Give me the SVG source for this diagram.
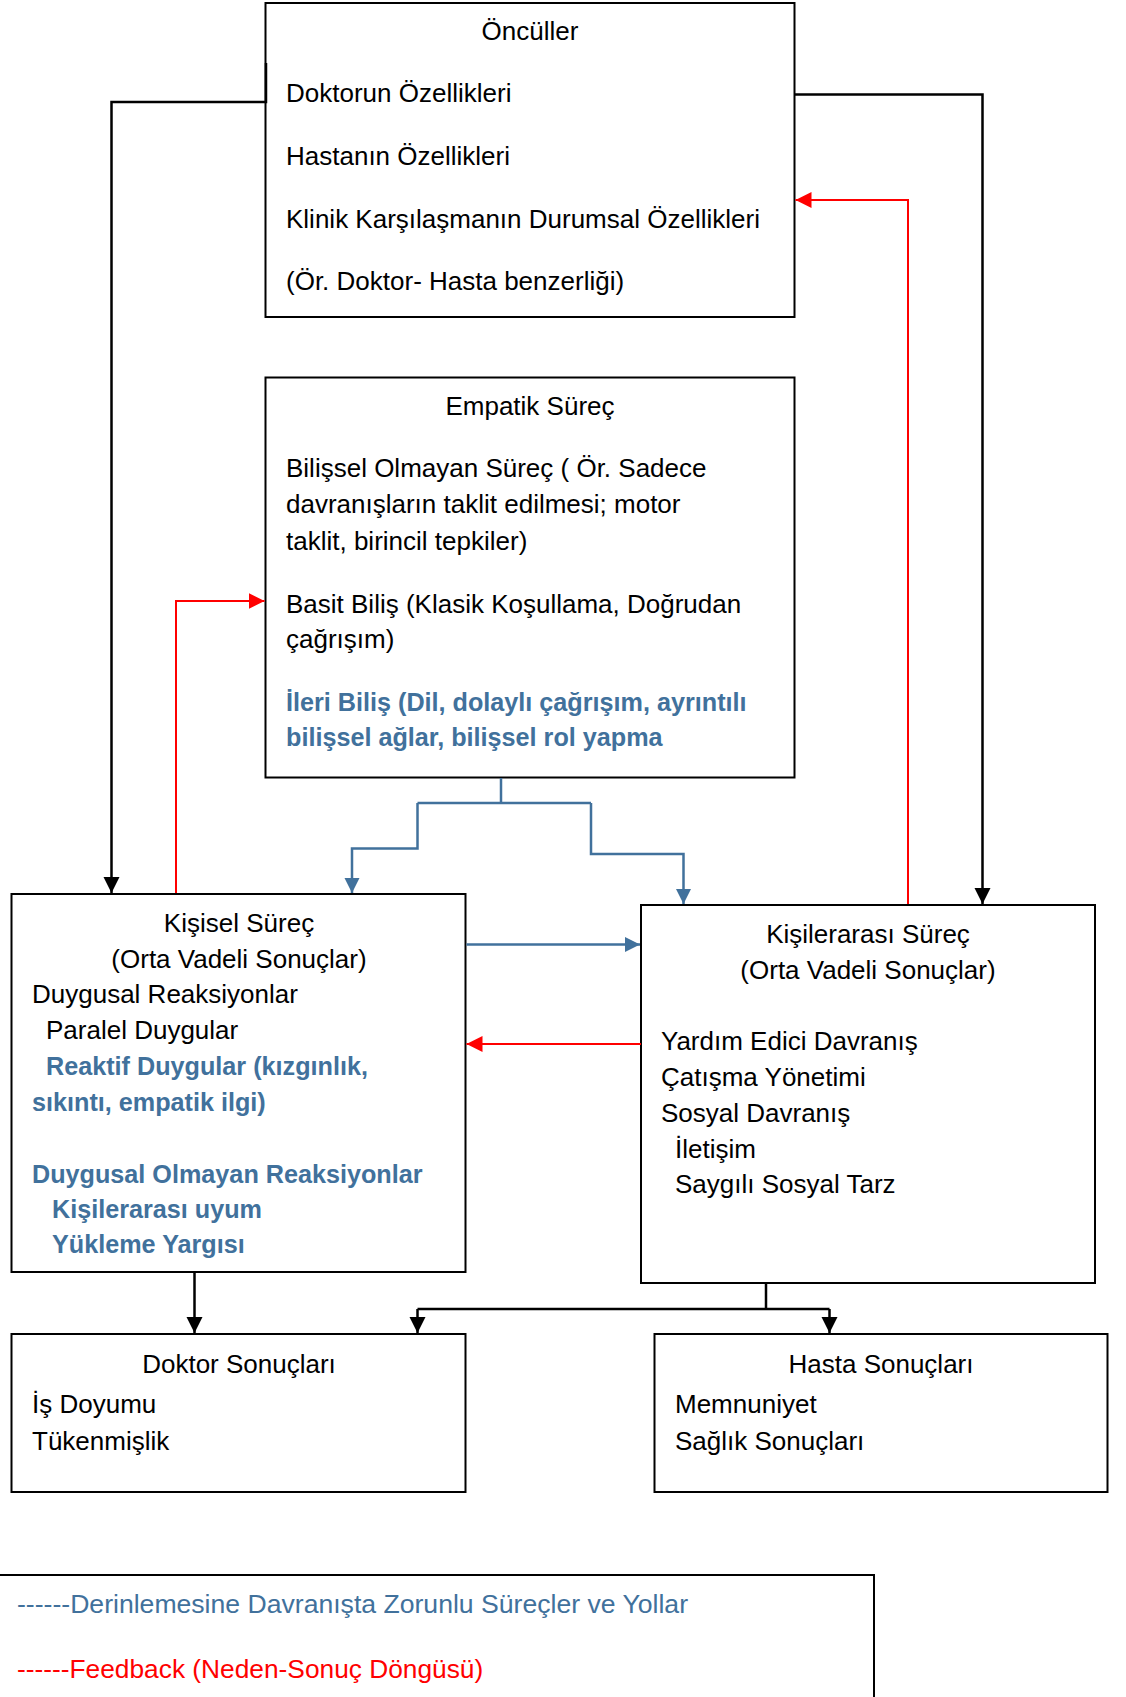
<svg xmlns="http://www.w3.org/2000/svg" width="1126" height="1697" viewBox="0 0 1126 1697">
<style>
  .box{fill:#ffffff;stroke:#000000;stroke-width:2}
  text{font-family:"Liberation Sans",Arial,sans-serif;font-size:26px;fill:#000000}
  .c{text-anchor:middle}
  .b{font-weight:bold;fill:#41719C;font-size:25.2px}
  .blue{fill:#41719C;font-size:26.6px}
  .red{fill:#FF0000;font-size:26.3px}
  .kline{fill:none;stroke:#000000;stroke-width:2.5}
  .rline{fill:none;stroke:#FF0000;stroke-width:2}
  .bline{fill:none;stroke:#41719C;stroke-width:2.5}
</style>
<defs>
  <marker id="ak" markerUnits="userSpaceOnUse" markerWidth="18" markerHeight="18" refX="16" refY="8" orient="auto">
    <path d="M0,0 L16,8 L0,16 Z" fill="#000000"/>
  </marker>
  <marker id="ar" markerUnits="userSpaceOnUse" markerWidth="18" markerHeight="18" refX="16" refY="8" orient="auto">
    <path d="M0,0 L16,8 L0,16 Z" fill="#FF0000"/>
  </marker>
  <marker id="ab" markerUnits="userSpaceOnUse" markerWidth="18" markerHeight="18" refX="15" refY="7.5" orient="auto">
    <path d="M0,0 L15,7.5 L0,15 Z" fill="#41719C"/>
  </marker>
</defs>

<g id="onculler">
  <rect class="box" x="265.5" y="3" width="529" height="314"/>
  <text class="c" x="530" y="40">Öncüller</text>
  <text x="286" y="102">Doktorun Özellikleri</text>
  <text x="286" y="165">Hastanın Özellikleri</text>
  <text x="286" y="228">Klinik Karşılaşmanın Durumsal Özellikleri</text>
  <text x="286" y="290">(Ör. Doktor- Hasta benzerliği)</text>
</g>

<g id="empatik">
  <rect class="box" x="265.5" y="377.5" width="529" height="400"/>
  <text class="c" x="530" y="415">Empatik Süreç</text>
  <text x="286" y="477">Bilişsel Olmayan Süreç ( Ör. Sadece</text>
  <text x="286" y="513">davranışların taklit edilmesi; motor</text>
  <text x="286" y="550">taklit, birincil tepkiler)</text>
  <text x="286" y="613">Basit Biliş (Klasik Koşullama, Doğrudan</text>
  <text x="286" y="648">çağrışım)</text>
  <text class="b" x="286" y="711">İleri Biliş (Dil, dolaylı çağrışım, ayrıntılı</text>
  <text class="b" x="286" y="746">bilişsel ağlar, bilişsel rol yapma</text>
</g>

<g id="kisisel">
  <rect class="box" x="11.5" y="894" width="454" height="378"/>
  <text class="c" x="239" y="932">Kişisel Süreç</text>
  <text class="c" x="239" y="968">(Orta Vadeli Sonuçlar)</text>
  <text x="32" y="1003">Duygusal Reaksiyonlar</text>
  <text x="46" y="1039">Paralel Duygular</text>
  <text class="b" x="46" y="1075">Reaktif Duygular (kızgınlık,</text>
  <text class="b" x="32" y="1111">sıkıntı, empatik ilgi)</text>
  <text class="b" x="32" y="1183">Duygusal Olmayan Reaksiyonlar</text>
  <text class="b" x="52" y="1218">Kişilerarası uyum</text>
  <text class="b" x="52" y="1253">Yükleme Yargısı</text>
</g>

<g id="kisilerarasi">
  <rect class="box" x="641" y="905" width="454" height="378"/>
  <text class="c" x="868" y="943">Kişilerarası Süreç</text>
  <text class="c" x="868" y="979">(Orta Vadeli Sonuçlar)</text>
  <text x="661" y="1050">Yardım Edici Davranış</text>
  <text x="661" y="1086">Çatışma Yönetimi</text>
  <text x="661" y="1122">Sosyal Davranış</text>
  <text x="675" y="1158">İletişim</text>
  <text x="675" y="1193">Saygılı Sosyal Tarz</text>
</g>

<g id="doktor">
  <rect class="box" x="11.5" y="1334" width="454" height="158"/>
  <text class="c" x="239" y="1373">Doktor Sonuçları</text>
  <text x="32" y="1413">İş Doyumu</text>
  <text x="32" y="1450">Tükenmişlik</text>
</g>

<g id="hasta">
  <rect class="box" x="654.5" y="1334" width="453" height="158"/>
  <text class="c" x="881" y="1373">Hasta Sonuçları</text>
  <text x="675" y="1413">Memnuniyet</text>
  <text x="675" y="1450">Sağlık Sonuçları</text>
</g>

<g id="legend">
  <path d="M0,1575 H874 V1697" fill="none" stroke="#000000" stroke-width="2"/>
  <text class="blue" x="17" y="1613">------Derinlemesine Davranışta Zorunlu Süreçler ve Yollar</text>
  <text class="red" x="17" y="1678">------Feedback (Neden-Sonuç Döngüsü)</text>
</g>

<g id="connectors">
  <path class="kline" d="M266,63 V102 H111.5 V893" marker-end="url(#ak)"/>
  <path class="kline" d="M795,94.5 H982.5 V904" marker-end="url(#ak)"/>
  <path class="rline" d="M908,904 V200 H795.5" marker-end="url(#ar)"/>
  <path class="rline" d="M176,893 V601 H264.5" marker-end="url(#ar)"/>
  <path class="bline" d="M501,778 V803"/>
  <path class="bline" d="M417.5,803 H591"/>
  <path class="bline" d="M417.5,803 V848.5 H352 V893" marker-end="url(#ab)"/>
  <path class="bline" d="M591,803 V854 H683.5 V904" marker-end="url(#ab)"/>
  <path class="bline" d="M466.5,944.5 H640" marker-end="url(#ab)"/>
  <path class="rline" d="M641,1044 H466.5" marker-end="url(#ar)"/>
  <path class="kline" d="M194.5,1273 V1333" marker-end="url(#ak)"/>
  <path class="kline" d="M766,1284 V1309"/>
  <path class="kline" d="M417.5,1309 H829.5"/>
  <path class="kline" d="M417.5,1309 V1333" marker-end="url(#ak)"/>
  <path class="kline" d="M829.5,1309 V1333" marker-end="url(#ak)"/>
</g>
</svg>
